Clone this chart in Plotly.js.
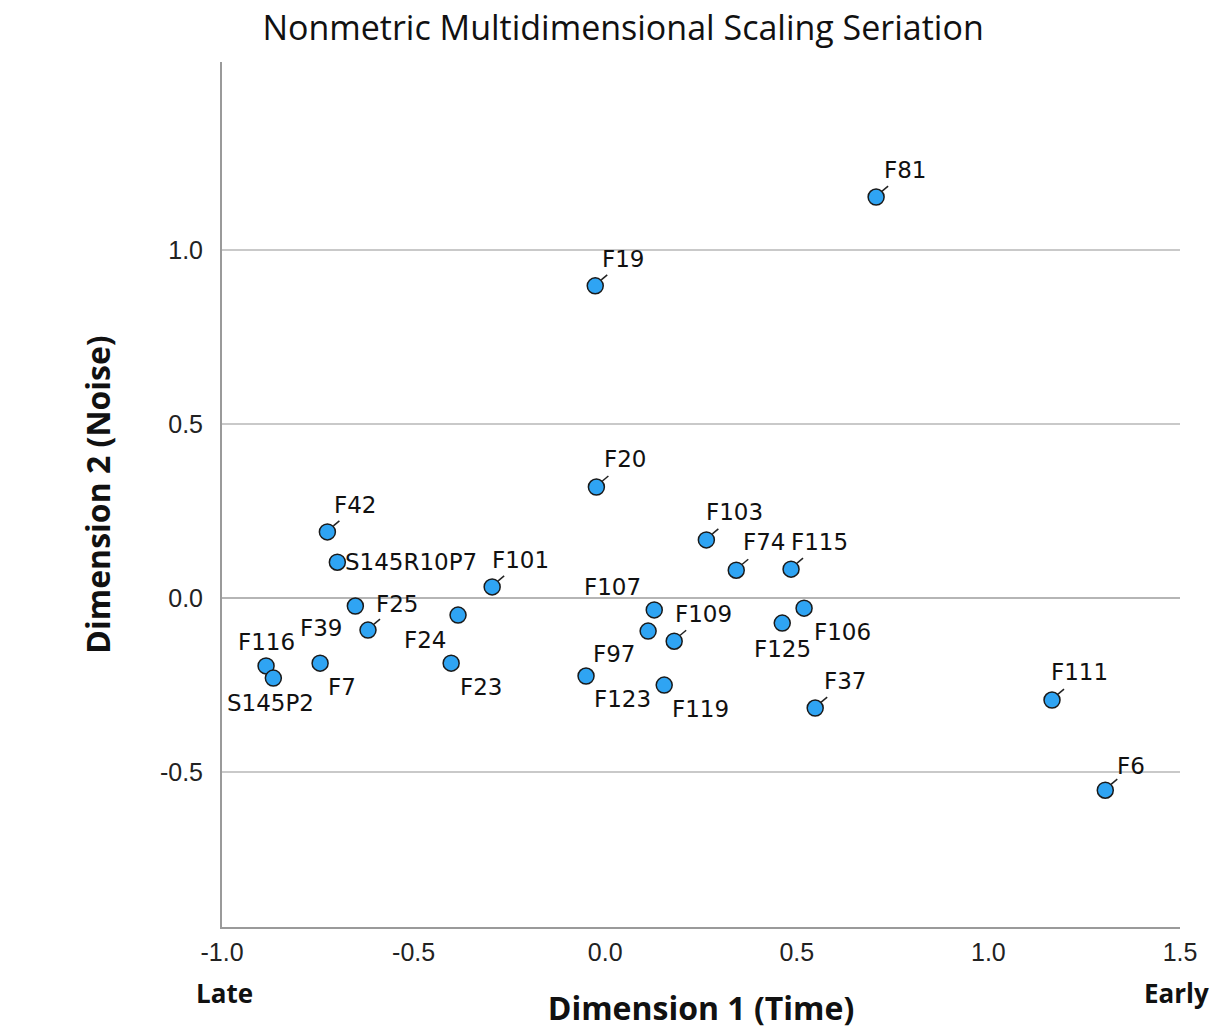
<!DOCTYPE html>
<html>
<head>
<meta charset="utf-8">
<script src="https://cdn.plot.ly/plotly-3.0.1.min.js"></script>
<style>html,body{margin:0;padding:0;background:#fff;}#chart{width:1211px;height:1029px;}</style>
</head>
<body>
<div id="chart"></div>
<script>
// ---- data ----
const labels = ["F81","F19","F20","F42","S145R10P7","F101","F25","F39","F24","F23","F116","S145P2","F7",
                "F107","F97","F109","F123","F119","F103","F74","F115","F106","F125","F37","F111","F6"];
const dim1 = [0.707,-0.026,-0.023,-0.725,-0.699,-0.295,-0.619,-0.652,-0.384,-0.402,-0.885,-0.866,-0.744,
              0.128,0.112,0.180,-0.050,0.154,0.264,0.342,0.485,0.519,0.462,0.548,1.166,1.305];
const dim2 = [1.152,0.897,0.319,0.190,0.103,0.032,-0.092,-0.023,-0.049,-0.187,-0.195,-0.230,-0.187,
              -0.034,-0.095,-0.124,-0.224,-0.250,0.167,0.080,0.083,-0.029,-0.072,-0.316,-0.293,-0.552];
const xTicks = [-1.0,-0.5,0.0,0.5,1.0,1.5];
const xTickText = ["-1.0","-0.5","0.0","0.5","1.0","1.5"];
const yTicks = [-0.5,0.0,0.5,1.0];
const yTickText = ["-0.5","0.0","0.5","1.0"];

// ---- label placement (pixel offsets of label centre from point; leader flag) ----
const labelDx = [29,28,29,28,74,28,29,-34,-33,30,0,-3,22,-42,-34,29,36,36,28,28,28,38,0,30,27,26];
const labelDy = [-27,-27,-28,-27,0,-27,-26,22,25,24,-24,25,24,-23,23,-27,23,24,-28,-28,-27,24,26,-27,-28,-24];
const leader  = [1,1,1,1,0,1,1,0,0,0,0,0,0,0,0,1,0,0,1,1,1,0,0,1,1,1];

const labelFont = {family:"DejaVu Sans, Arial, sans-serif", size:23, color:"#111"};
const annotations = labels.map((t,i)=>({
  x: dim1[i], y: dim2[i], xref:"x", yref:"y", text:t, showarrow:false,
  xshift: labelDx[i], yshift: -labelDy[i], xanchor:"center", yanchor:"middle", font: labelFont
}));
const endFont = {family:"Open Sans, sans-serif", size:26, color:"#111", weight:"bold"};
annotations.push({xref:"x", yref:"paper", x:xTicks[0], y:0, xshift:2, yshift:-66, text:"Late", showarrow:false,
  xanchor:"center", yanchor:"middle", font:endFont});
annotations.push({xref:"x", yref:"paper", x:xTicks[xTicks.length-1], y:0, xshift:-38, yshift:-66, text:"Early", showarrow:false,
  xanchor:"left", yanchor:"middle", font:endFont});

const shapes = [];
labels.forEach((t,i)=>{
  if(leader[i]){
    shapes.push({type:"line", xref:"x", yref:"y", xsizemode:"pixel", ysizemode:"pixel",
      xanchor: dim1[i], yanchor: dim2[i], x0:6, x1:12, y0:6, y1:11,
      line:{color:"#222", width:1.5}});
  }
});

const trace = {
  type:"scatter", mode:"markers", x: dim1, y: dim2, text: labels, hoverinfo:"text",
  marker:{size:16, color:"#2fa4f3", line:{color:"#1a1a1a", width:1.5}}
};

const tickFont = {family:"Liberation Sans, Arial, sans-serif", size:25, color:"#222"};
const axTitleFont = {family:"Open Sans, sans-serif", size:32, color:"#111", weight:"bold"};

const layout = {
  width:1211, height:1029,
  margin:{l:222, r:31, t:62, b:102, pad:0},
  paper_bgcolor:"#fff", plot_bgcolor:"#fff",
  showlegend:false,
  title:{text:"Nonmetric Multidimensional Scaling Seriation", xref:"container", yref:"container",
    x:0.5145, xanchor:"center", y:0.973, yanchor:"middle",
    font:{family:"Open Sans, sans-serif", size:34, color:"#111"}},
  xaxis:{range:[-1.0,1.5], tickvals:xTicks, ticktext:xTickText, showgrid:false, zeroline:false,
    showline:true, linecolor:"#9a9a9a", linewidth:2, ticks:"", ticklabelstandoff:2,
    tickfont:tickFont,
    title:{text:"Dimension 1 (Time)", standoff:39, font:axTitleFont},
    automargin:false, fixedrange:true},
  yaxis:{range:[-0.945,1.54], tickvals:yTicks, ticktext:yTickText, showgrid:true, gridcolor:"#c9c9c9", gridwidth:2,
    zeroline:true, zerolinecolor:"#b5b5b5", zerolinewidth:2,
    showline:true, linecolor:"#9a9a9a", linewidth:2, ticks:"", ticklabelstandoff:12,
    tickfont:tickFont,
    title:{text:"Dimension 2 (Noise)", standoff:40, font:axTitleFont},
    automargin:false, fixedrange:true},
  annotations: annotations,
  shapes: shapes
};

Plotly.newPlot("chart",[trace],layout,{displayModeBar:false, staticPlot:true});
</script>
</body>
</html>
